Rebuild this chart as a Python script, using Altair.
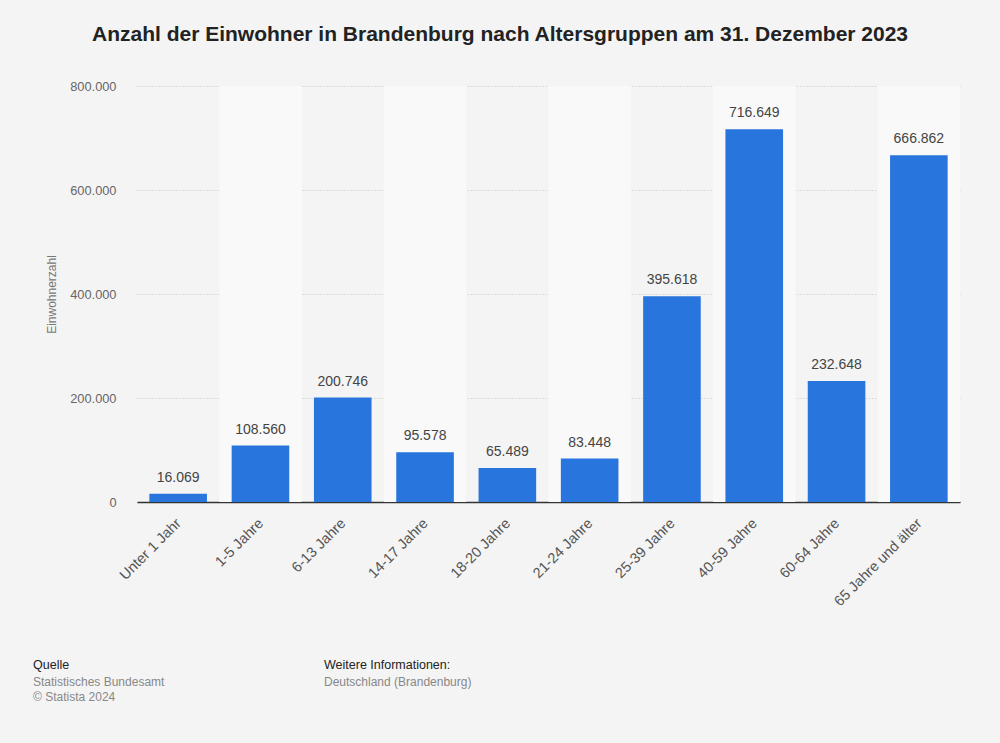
import altair as alt
import pandas as pd

categories = ["Unter 1 Jahr", "1-5 Jahre", "6-13 Jahre", "14-17 Jahre", "18-20 Jahre",
              "21-24 Jahre", "25-39 Jahre", "40-59 Jahre", "60-64 Jahre", "65 Jahre und älter"]
values = [16069, 108560, 200746, 95578, 65489, 83448, 395618, 716649, 232648, 666862]
y_ticks = [0, 200000, 400000, 600000, 800000]

title_text = "Anzahl der Einwohner in Brandenburg nach Altersgruppen am 31. Dezember 2023"
y_title = "Einwohnerzahl"

footer_texts = ["Quelle", "Statistisches Bundesamt", "© Statista 2024",
                "Weitere Informationen:", "Deutschland (Brandenburg)"]

df = pd.DataFrame({
    "Altersgruppe": categories,
    "Wert": values,
    "Label": [f"{v:,}".replace(",", ".") for v in values],
})
bands = pd.DataFrame({"Altersgruppe": [c for i, c in enumerate(categories) if i % 2 == 1]})

W, H = 823, 416
L, T = 137, 86
FONT = "Liberation Sans"

x_enc = alt.X("Altersgruppe:N", sort=categories,
              scale=alt.Scale(paddingInner=0.3, paddingOuter=0.15),
              axis=alt.Axis(title=None, labelAngle=-45, labelAlign="right", labelBaseline="top",
                            labelFontSize=14.5, labelColor="#555555", labelFont=FONT,
                            labelPadding=14, labelOffset=-4, ticks=False, domain=True,
                            domainColor="#333333", domainWidth=1.5, grid=False))
y_scale = alt.Scale(domain=[0, 800000], nice=False)
y_axis = alt.Axis(values=y_ticks, title=y_title, titleFontSize=12, titleFontWeight="normal",
                  titleColor="#777777", titleFont=FONT, titleX=-79, titleY=H / 2,
                  titleAngle=-90, titleBaseline="bottom", titleAlign="center",
                  labelExpr="replace(format(datum.value, ','), ',', '.')",
                  labelFontSize=12.8, labelColor="#666666", labelFont=FONT, labelPadding=21,
                  ticks=False, domain=False, grid=True, gridColor="#c8c8c8",
                  gridDash=[1, 2], gridWidth=1)

band_layer = alt.Chart(bands).mark_bar(color="#f9f9f9", width=alt.RelativeBandSize(1 / 0.7)).encode(
    x=x_enc,
    y=alt.value(0),
    y2=alt.value(H),
)

bar_layer = alt.Chart(df).mark_bar(color="#2876dd").encode(
    x=alt.X("Altersgruppe:N", sort=categories),
    y=alt.Y("Wert:Q", scale=y_scale, axis=y_axis),
)

label_layer = alt.Chart(df).mark_text(baseline="bottom", dy=-9, fontSize=14, color="#444444",
                                      font=FONT).encode(
    x=alt.X("Altersgruppe:N", sort=categories),
    y=alt.Y("Wert:Q", scale=y_scale, axis=y_axis),
    text="Label:N",
)


def text_layer(txt, px, py, size, color, weight="normal", align="left"):
    return alt.Chart(pd.DataFrame({"t": [txt]})).mark_text(
        fontSize=size, fontWeight=weight, color=color, font=FONT, align=align, baseline="middle"
    ).encode(x=alt.value(px - L), y=alt.value(py - T), text="t:N")


title_layer = text_layer(title_text, 500, 35, 21, "#222222", weight="bold", align="center")
footer_layers = [
    text_layer(footer_texts[0], 33, 665, 12.5, "#222222"),
    text_layer(footer_texts[1], 33, 682, 12, "#888888"),
    text_layer(footer_texts[2], 33, 697, 12, "#888888"),
    text_layer(footer_texts[3], 324, 665, 12.5, "#222222"),
    text_layer(footer_texts[4], 324, 682, 12, "#888888"),
]

chart = alt.layer(band_layer, bar_layer, label_layer, title_layer, *footer_layers).properties(
    width=W, height=H,
    autosize=alt.AutoSizeParams(type="none"),
    padding={"left": L, "top": T, "right": 1000 - L - W, "bottom": 743 - T - H},
    background="#f4f4f4",
).configure_view(stroke=None)

chart.save("out.html", embed_options={"renderer": "svg", "actions": False})
